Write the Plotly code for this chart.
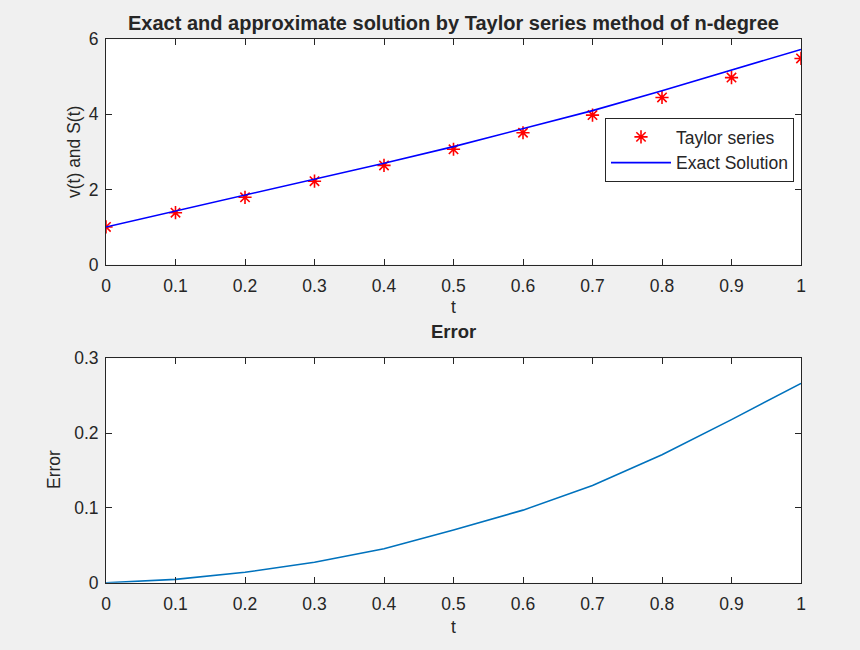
import plotly.graph_objects as go

# Sample times and solution values
t = [0.0, 0.1, 0.2, 0.3, 0.4, 0.5, 0.6, 0.7, 0.8, 0.9, 1.0]
exact_solution = [1.00, 1.42, 1.85, 2.27, 2.70, 3.14, 3.63, 4.10, 4.63, 5.18, 5.73]
taylor_series = [1.00, 1.38, 1.79, 2.22, 2.64, 3.07, 3.51, 3.98, 4.45, 4.98, 5.49]
error_values = [0.0, 0.0045, 0.0139, 0.0273, 0.0455, 0.0705, 0.097, 0.130, 0.171, 0.218, 0.2665]

# Tick positions and labels
x_ticks = [0, 0.1, 0.2, 0.3, 0.4, 0.5, 0.6, 0.7, 0.8, 0.9, 1]
x_tick_text = ["0", "0.1", "0.2", "0.3", "0.4", "0.5", "0.6", "0.7", "0.8", "0.9", "1"]
y1_ticks = [0, 2, 4, 6]
y1_tick_text = ["0", "2", "4", "6"]
y2_ticks = [0, 0.1, 0.2, 0.3]
y2_tick_text = ["0", "0.1", "0.2", "0.3"]

W, H = 860, 650
FONT = "Liberation Sans, Arial, Helvetica, sans-serif"
INK = "#262626"
TICK_SIZE = 17.5


def px_x(x):
    return x / W


def px_y(y):
    return 1 - y / H


fig = go.Figure()

fig.add_trace(go.Scatter(
    x=t, y=taylor_series, mode="markers", name="Taylor series",
    marker=dict(symbol="asterisk-open", size=11, color="#ff0000",
                line=dict(color="#ff0000", width=1.6)),
    xaxis="x", yaxis="y",
))
fig.add_trace(go.Scatter(
    x=t, y=exact_solution, mode="lines", name="Exact Solution",
    line=dict(color="#0000ff", width=1.6),
    xaxis="x", yaxis="y",
))
fig.add_trace(go.Scatter(
    x=t, y=error_values, mode="lines", name="Error", showlegend=False,
    line=dict(color="#0072BD", width=1.6),
    xaxis="x2", yaxis="y2",
))

axis_common = dict(
    showline=True, linecolor=INK, linewidth=1, mirror="allticks",
    ticks="inside", ticklen=6, tickcolor=INK, tickwidth=1,
    showgrid=False, zeroline=False, automargin=False,
    tickfont=dict(family=FONT, size=TICK_SIZE, color=INK),
)
x_extra = dict(ticklabelstandoff=5)
y_extra = dict(ticklabelstandoff=3)

x_dom = [px_x(106), px_x(801)]
fig.update_layout(
    width=W, height=H, autosize=False,
    margin=dict(l=0, r=0, t=0, b=0),
    paper_bgcolor="#f0f0f0", plot_bgcolor="#ffffff",
    font=dict(family=FONT, color=INK),
    xaxis=dict(domain=x_dom, range=[0, 1], tickmode="array",
               tickvals=x_ticks, ticktext=x_tick_text, anchor="y",
               **axis_common, **x_extra),
    yaxis=dict(domain=[px_y(264.5), px_y(39.3)], range=[0, 6], tickmode="array",
               tickvals=y1_ticks, ticktext=y1_tick_text, anchor="x",
               **axis_common, **y_extra),
    xaxis2=dict(domain=x_dom, range=[0, 1], tickmode="array",
                tickvals=x_ticks, ticktext=x_tick_text, anchor="y2",
                **axis_common, **x_extra),
    yaxis2=dict(domain=[px_y(582.7), px_y(358.3)], range=[0, 0.3], tickmode="array",
                tickvals=y2_ticks, ticktext=y2_tick_text, anchor="x2",
                **axis_common, **y_extra),
    legend=dict(
        x=px_x(794), y=px_y(118), xanchor="right", yanchor="top",
        bgcolor="#ffffff", bordercolor=INK, borderwidth=1,
        font=dict(family=FONT, size=TICK_SIZE, color=INK),
        tracegroupgap=0, itemwidth=60,
    ),
    showlegend=True,
)

cx = px_x((106 + 801) / 2)
annotations = [
    dict(text="<b>Exact and approximate solution by Taylor series method of n-degree</b>",
         x=cx, y=px_y(23), font=dict(size=20)),
    dict(text="<b>Error</b>", x=cx, y=px_y(331), font=dict(size=18.5)),
    dict(text="t", x=cx, y=px_y(307), font=dict(size=TICK_SIZE)),
    dict(text="t", x=cx, y=px_y(627), font=dict(size=TICK_SIZE)),
    dict(text="v(t) and S(t)", x=px_x(74), y=px_y(152), textangle=-90,
         font=dict(size=TICK_SIZE)),
    dict(text="Error", x=px_x(54), y=px_y(470), textangle=-90,
         font=dict(size=TICK_SIZE)),
]
for a in annotations:
    a.update(xref="paper", yref="paper", showarrow=False,
             xanchor="center", yanchor="middle")
    a["font"].update(family=FONT, color=INK)
fig.update_layout(annotations=annotations)

fig.write_html("out.html")
